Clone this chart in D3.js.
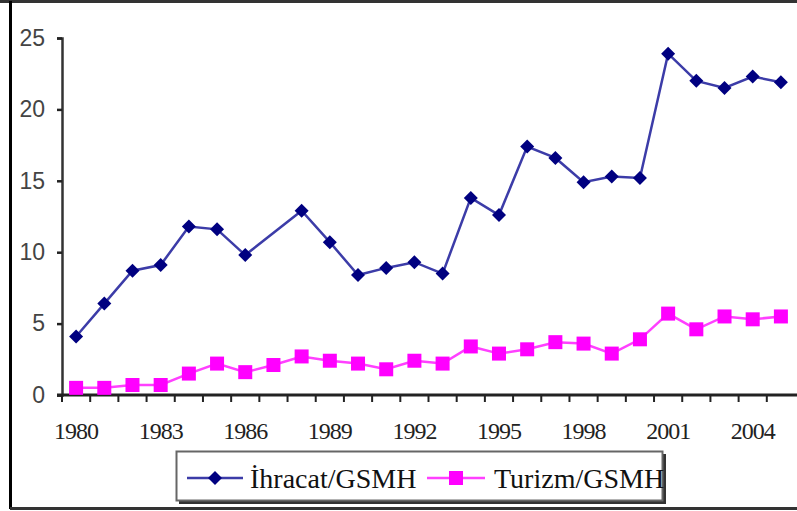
<!DOCTYPE html>
<html>
<head>
<meta charset="utf-8">
<script src="https://cdn.jsdelivr.net/npm/d3@7"></script>
<style>
  body { margin: 0; background: #fff; }
  svg { display: block; }
</style>
</head>
<body>
<div id="vis"></div>
<script>
// chart data
const years = d3.range(1980, 2006)
const ihracat = [4.1, 6.4, 8.7, 9.1, 11.8, 11.6, 9.8, null, 12.9, 10.7,
                 8.4, 8.9, 9.3, 8.5, 13.8, 12.6, 17.4, 16.6, 14.9, 15.3,
                 15.2, 23.9, 22.0, 21.5, 22.3, 21.9]
const turizm = [0.5, 0.5, 0.7, 0.7, 1.5, 2.2, 1.6, 2.1, 2.7, 2.4,
                2.2, 1.8, 2.4, 2.2, 3.4, 2.9, 3.2, 3.7, 3.6, 2.9,
                3.9, 5.7, 4.6, 5.5, 5.3, 5.5]
const yTicks = [0, 5, 10, 15, 20, 25]
const xLabels = [1980, 1983, 1986, 1989, 1992, 1995, 1998, 2001, 2004]
const seriesNames = ['İhracat/GSMH', 'Turizm/GSMH']

const W = 797, H = 511
const plot = { left: 62, right: 795, top: 38, bottom: 395 }

const svg = d3.select('#vis').append('svg')
  .attr('width', W).attr('height', H)

// outer frame (left, top, bottom only)
svg.append('line').attr('x1', 0).attr('x2', W).attr('y1', 1.5).attr('y2', 1.5)
  .attr('stroke', '#333').attr('stroke-width', 3)
svg.append('line').attr('x1', 10.5).attr('x2', 10.5).attr('y1', 1).attr('y2', 509)
  .attr('stroke', '#000').attr('stroke-width', 3)
svg.append('line').attr('x1', 10).attr('x2', W).attr('y1', 508.5).attr('y2', 508.5)
  .attr('stroke', '#333').attr('stroke-width', 3)

const xScale = d3.scaleBand().domain(years).range([plot.left, plot.right])
const yScale = d3.scaleLinear().domain([0, 25]).range([plot.bottom, plot.top])
const cx = d => xScale(d) + xScale.bandwidth() / 2

// y axis
const yAxis = svg.append('g')
  .attr('transform', `translate(${plot.left},0)`)
  .call(d3.axisLeft(yScale).tickValues(yTicks).tickSize(5).tickPadding(12))
yAxis.select('.domain').attr('stroke', '#333').attr('stroke-width', 2.5)
yAxis.selectAll('.tick line').attr('stroke', '#222').attr('stroke-width', 2.5)
yAxis.selectAll('.tick text')
  .attr('fill', '#444')
  .style('font-family', '"Liberation Sans", Arial, sans-serif')
  .style('font-size', '23px')

// x axis: ticks on category boundaries, labels every third year
const bounds = years.map(y => xScale(y))
const xg = svg.append('g')
xg.append('line').attr('x1', 57).attr('x2', W).attr('y1', plot.bottom).attr('y2', plot.bottom)
  .attr('stroke', '#222').attr('stroke-width', 3)
xg.selectAll('.xtick').data(bounds).join('line')
  .attr('class', 'xtick')
  .attr('x1', d => d).attr('x2', d => d)
  .attr('y1', plot.bottom).attr('y2', plot.bottom + 7)
  .attr('stroke', '#222').attr('stroke-width', 2)
xg.selectAll('.xlabel').data(xLabels).join('text')
  .attr('class', 'xlabel')
  .attr('x', d => cx(d)).attr('y', 439)
  .attr('text-anchor', 'middle')
  .attr('fill', '#222')
  .style('font-family', '"Liberation Serif", "Times New Roman", serif')
  .style('font-size', '24px')
  .style('letter-spacing', '-1px')
  .text(d => d)

const line = d3.line()
  .defined(d => d[1] != null)
  .x(d => cx(d[0]))
  .y(d => yScale(d[1]))

const blueData = years.map((y, i) => [y, ihracat[i]])
const pinkData = years.map((y, i) => [y, turizm[i]])

// Turizm line + squares
svg.append('path')
  .datum(pinkData.filter(d => d[1] != null))
  .attr('d', line).attr('fill', 'none')
  .attr('stroke', '#ff40ff').attr('stroke-width', 2.5)
svg.selectAll('.sq').data(pinkData.filter(d => d[1] != null)).join('rect')
  .attr('class', 'sq')
  .attr('x', d => cx(d[0]) - 7).attr('y', d => yScale(d[1]) - 7)
  .attr('width', 14).attr('height', 14)
  .attr('fill', '#ff00ff')

// Ihracat line + diamonds (gap at 1987 is bridged)
svg.append('path')
  .datum(blueData.filter(d => d[1] != null))
  .attr('d', line).attr('fill', 'none')
  .attr('stroke', '#3c3ca8').attr('stroke-width', 2.5)
const diamondPath = 'M0,-7L7,0L0,7L-7,0Z'
svg.selectAll('.dm').data(blueData.filter(d => d[1] != null)).join('path')
  .attr('class', 'dm')
  .attr('d', diamondPath)
  .attr('transform', d => `translate(${cx(d[0])},${yScale(d[1])})`)
  .attr('fill', '#000080')

// legend box with shadow
const lg = svg.append('g')
lg.append('rect').attr('x', 179).attr('y', 454).attr('width', 487).attr('height', 50)
  .attr('fill', '#333')
lg.append('rect').attr('x', 176.5).attr('y', 451.5).attr('width', 486).attr('height', 49)
  .attr('fill', '#fff').attr('stroke', '#666').attr('stroke-width', 2)

const legendItems = [
  { name: seriesNames[0], x1: 187, x2: 243, tx: 250, color: '#3c3ca8', mark: '#000080', type: 'diamond' },
  { name: seriesNames[1], x1: 427, x2: 485, tx: 494, color: '#ff40ff', mark: '#ff00ff', type: 'square' }
]
const ly = 478
legendItems.forEach(it => {
  lg.append('line').attr('x1', it.x1).attr('x2', it.x2).attr('y1', ly).attr('y2', ly)
    .attr('stroke', it.color).attr('stroke-width', 2.5)
  const mx = (it.x1 + it.x2) / 2
  if (it.type === 'diamond') {
    lg.append('path').attr('d', diamondPath)
      .attr('transform', `translate(${mx},${ly})`)
      .attr('fill', it.mark)
  } else {
    lg.append('rect').attr('x', mx - 7).attr('y', ly - 7).attr('width', 14).attr('height', 14)
      .attr('fill', it.mark)
  }
  lg.append('text').attr('x', it.tx).attr('y', ly + 10)
    .attr('fill', '#111')
    .style('font-family', '"Liberation Serif", "Times New Roman", serif')
    .style('font-size', '28px')
    .text(it.name)
})
</script>
</body>
</html>
